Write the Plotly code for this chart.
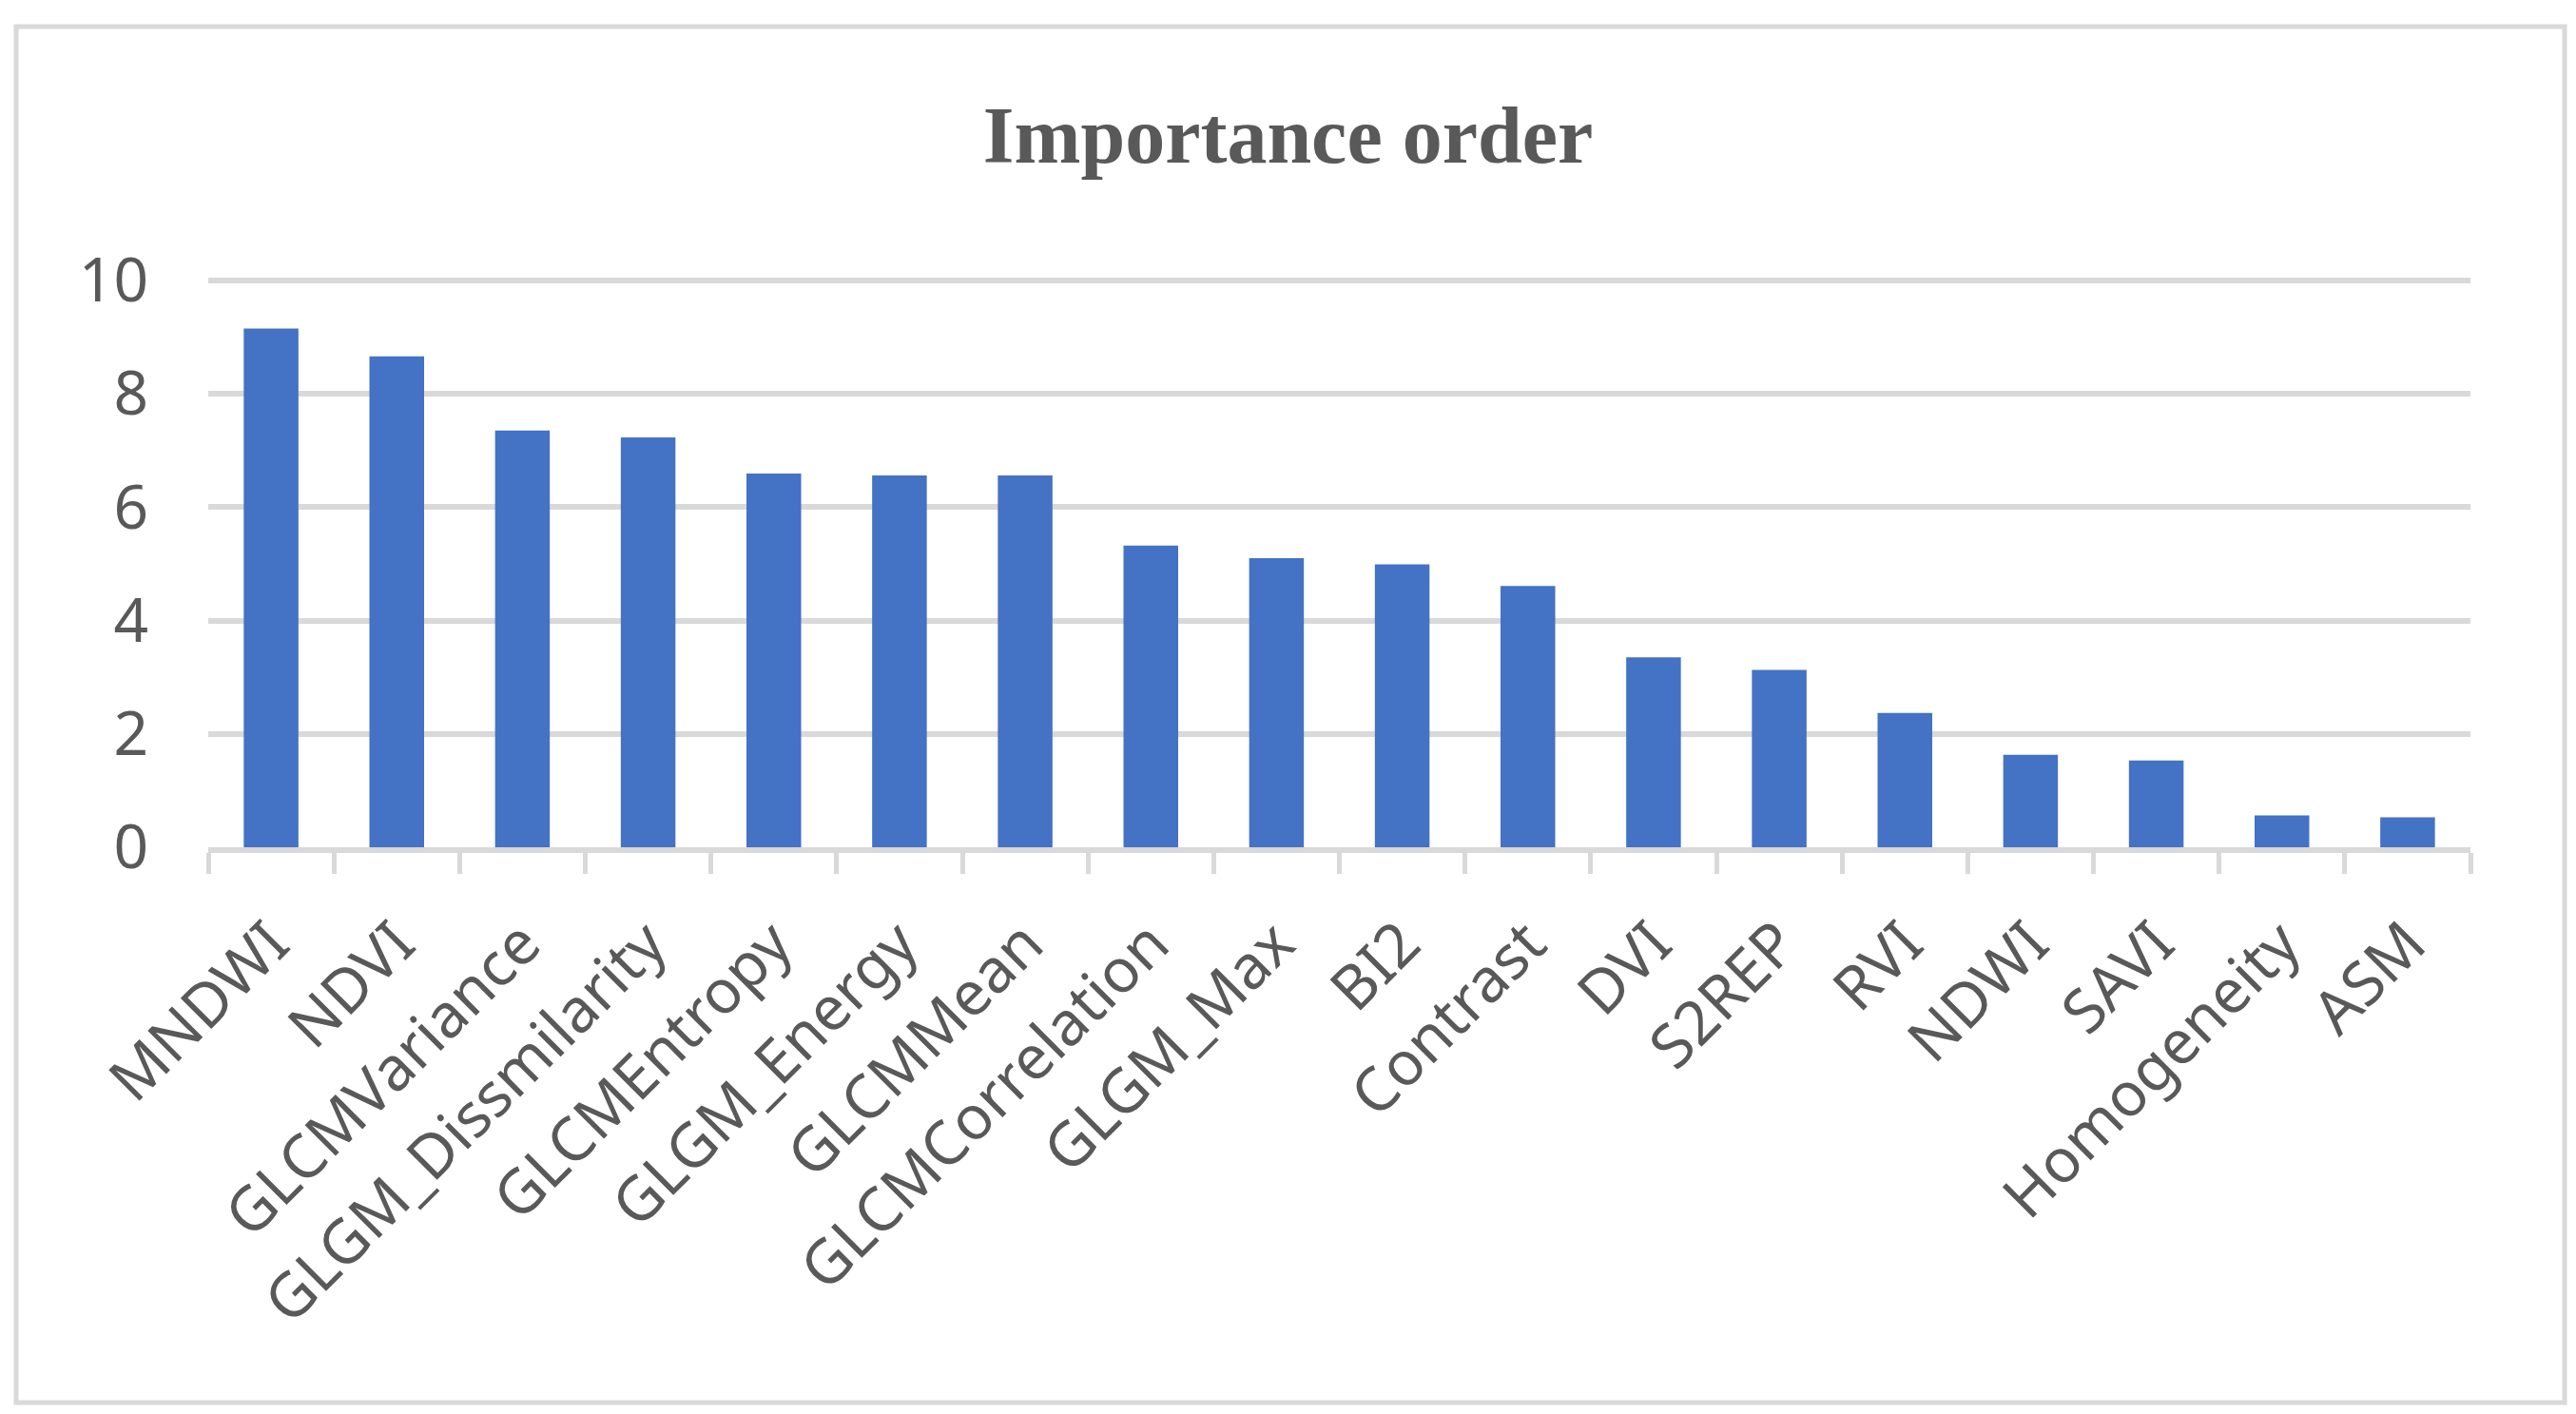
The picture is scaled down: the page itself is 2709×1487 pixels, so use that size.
import plotly.graph_objects as go

categories = ["MNDWI", "NDVI", "GLCMVariance", "GLGM_Dissmilarity", "GLCMEntropy",
              "GLGM_Energy", "GLCMMean", "GLCMCorrelation", "GLGM_Max", "BI2",
              "Contrast", "DVI", "S2REP", "RVI", "NDWI", "SAVI", "Homogeneity", "ASM"]
importance = [9.15, 8.66, 7.35, 7.23, 6.59, 6.56, 6.56, 5.32, 5.10, 4.99,
              4.61, 3.35, 3.13, 2.37, 1.63, 1.53, 0.56, 0.53]
y_ticks = [0, 2, 4, 6, 8, 10]
title_text = "Importance order"

W, H = 2709, 1487
ML, MR, MT, MB = 219, 111, 293, 596
pw = W - ML - MR
ph = H - MT - MB

# outer frame (pixels)
fx0, fx1, fy0, fy1 = 17, 2697, 28, 1475

grey = "#595959"
line_grey = "#D9D9D9"

fig = go.Figure(go.Bar(
    x=categories, y=importance,
    marker=dict(color="#4472C4", line=dict(width=0)),
))

fig.update_layout(
    width=W, height=H,
    margin=dict(l=ML, r=MR, t=MT, b=MB, pad=0),
    paper_bgcolor="white", plot_bgcolor="white",
    bargap=0.565,
    showlegend=False,
    title=dict(text="<b>" + title_text + "</b>", x=0.5, xref="container", xanchor="center",
               y=1 - 142 / H, yref="container", yanchor="middle",
               font=dict(family="Liberation Serif", size=84, color=grey)),
    font=dict(family="Noto Sans", color=grey),
)

fig.update_yaxes(
    range=[0, 10.03], tickvals=y_ticks, showgrid=True, gridcolor=line_grey, gridwidth=6,
    zeroline=False, showline=False, ticks="", ticklabelstandoff=62,
    tickfont=dict(family="Noto Sans", size=64, color=grey), fixedrange=True,
)
fig.update_xaxes(
    showline=True, linecolor=line_grey, linewidth=6,
    ticks="outside", tickson="boundaries", ticklen=22, tickwidth=5, tickcolor=line_grey,
    tickangle=-45, ticklabelstandoff=32,
    tickfont=dict(family="Noto Sans", size=64, color=grey), fixedrange=True,
)

fig.add_shape(type="rect", xref="paper", yref="paper",
              x0=(fx0 - ML) / pw, x1=(fx1 - ML) / pw,
              y0=(H - MB - fy1) / ph, y1=(H - MB - fy0) / ph,
              line=dict(color=line_grey, width=5), fillcolor="rgba(0,0,0,0)", layer="below")

fig.write_html("out.html", config={"displayModeBar": False},
               post_script="document.body.style.margin='0';")
